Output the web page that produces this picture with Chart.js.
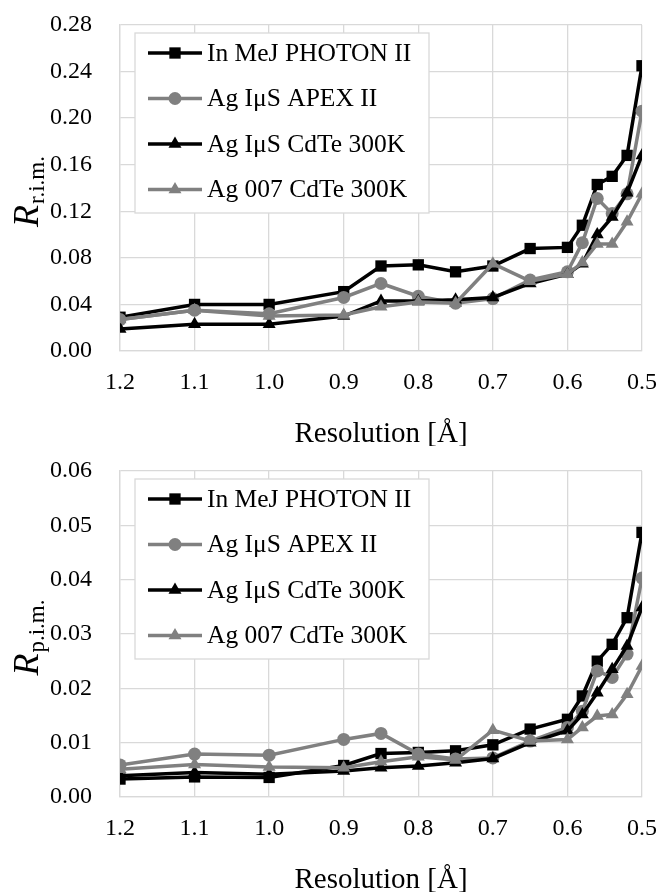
<!DOCTYPE html>
<html>
<head>
<meta charset="utf-8">
<script src="https://cdn.jsdelivr.net/npm/chart.js@4.4.0/dist/chart.umd.min.js"></script>
<style>
  body { margin: 0; background: #fff; }
  canvas { display: block; }
</style>
</head>
<body>
<canvas id="rim" width="660" height="446"></canvas>
<canvas id="pim" width="660" height="446"></canvas>
<script>
// resolution shells (Å)
const resolution = [1.2, 1.1, 1.0, 0.9, 0.85, 0.8, 0.75, 0.7, 0.65, 0.6, 0.58, 0.56, 0.54, 0.52, 0.5];
const seriesNames = ['In MeJ PHOTON II', 'Ag IμS APEX II', 'Ag IμS CdTe 300K', 'Ag 007 CdTe 300K'];

// R r.i.m.
const rimPhoton = [0.029, 0.040, 0.040, 0.051, 0.073, 0.074, 0.068, 0.073, 0.088, 0.089, 0.108, 0.143, 0.150, 0.168, 0.245];
const rimApex   = [0.027, 0.035, 0.032, 0.046, 0.058, 0.047, 0.041, 0.045, 0.061, 0.068, 0.093, 0.131, 0.118, 0.135, 0.206];
const rimCdTe   = [0.019, 0.023, 0.023, 0.030, 0.043, 0.043, 0.044, 0.046, 0.058, 0.066, 0.075, 0.100, 0.115, 0.136, 0.168];
const rim007    = [0.027, 0.035, 0.030, 0.031, 0.038, 0.042, 0.041, 0.075, 0.060, 0.066, 0.076, 0.092, 0.092, 0.111, 0.135];

// R p.i.m.
const pimPhoton = [0.0033, 0.0037, 0.0036, 0.0058, 0.0080, 0.0082, 0.0085, 0.0096, 0.0125, 0.0143, 0.0186, 0.0250, 0.0281, 0.0330, 0.0487];
const pimApex   = [0.0059, 0.0079, 0.0077, 0.0106, 0.0117, 0.0079, 0.0070, 0.0072, 0.0103, 0.0128, 0.0158, 0.0232, 0.0220, 0.0263, 0.0403];
const pimCdTe   = [0.0039, 0.0045, 0.0042, 0.0048, 0.0054, 0.0057, 0.0063, 0.0071, 0.0100, 0.0122, 0.0152, 0.0192, 0.0235, 0.0278, 0.0349];
const pim007    = [0.0051, 0.0060, 0.0055, 0.0054, 0.0065, 0.0074, 0.0068, 0.0123, 0.0103, 0.0106, 0.0128, 0.0149, 0.0152, 0.0189, 0.0241];

const FONT = "'Liberation Serif', 'Times New Roman', serif";
const BLACK = '#000000';
const GREY = '#808080';
const GRID = '#d9d9d9';

Chart.defaults.font.family = FONT;
Chart.defaults.color = '#000';

const styles = [
  { color: BLACK, pointStyle: 'rect', radius: 8 },
  { color: GREY, pointStyle: 'circle', radius: 6.5 },
  { color: BLACK, pointStyle: 'triangle', radius: 7.5 },
  { color: GREY, pointStyle: 'triangle', radius: 7.5 }
];

function marker(ctx, style, r, x, y) {
  ctx.beginPath();
  if (style === 'rect') {
    const s = r / Math.SQRT2;
    ctx.rect(x - s, y - s, 2 * s, 2 * s);
  } else if (style === 'circle') {
    ctx.arc(x, y, r, 0, Math.PI * 2);
  } else {
    ctx.moveTo(x, y - r);
    ctx.lineTo(x + r * Math.sin(Math.PI * 2 / 3), y - r * Math.cos(Math.PI * 2 / 3));
    ctx.lineTo(x + r * Math.sin(Math.PI * 4 / 3), y - r * Math.cos(Math.PI * 4 / 3));
    ctx.closePath();
  }
  ctx.fill();
}

// legend drawn inside the plot, box with white fill
const legendBox = {
  id: 'legendBox',
  afterDraw(chart) {
    const { ctx, chartArea } = chart;
    const x0 = chartArea.left + 15, y0 = chartArea.top + 8;
    ctx.save();
    ctx.fillStyle = '#fff';
    ctx.fillRect(x0, y0, 294, 180);
    ctx.strokeStyle = GRID;
    ctx.lineWidth = 1.3;
    ctx.strokeRect(x0, y0, 294, 180);
    chart.data.datasets.forEach((ds, i) => {
      const y = y0 + 20 + i * 45.5;
      ctx.strokeStyle = ds.borderColor;
      ctx.lineWidth = ds.borderWidth;
      ctx.beginPath();
      ctx.moveTo(x0 + 13, y);
      ctx.lineTo(x0 + 67, y);
      ctx.stroke();
      ctx.fillStyle = ds.backgroundColor;
      marker(ctx, ds.pointStyle, ds.pointRadius, x0 + 40, y);
      ctx.fillStyle = '#000';
      ctx.font = '25.5px ' + FONT;
      ctx.textBaseline = 'middle';
      ctx.textAlign = 'left';
      ctx.fillText(ds.label, x0 + 72, y + 1);
    });
    ctx.restore();
  }
};

// y axis title: italic R with subscript
const yTitle = {
  id: 'yTitle',
  afterDraw(chart, args, opts) {
    const { ctx, chartArea } = chart;
    const mid = (chartArea.top + chartArea.bottom) / 2 + 4;
    ctx.save();
    ctx.translate(38, mid);
    ctx.rotate(-Math.PI / 2);
    ctx.fillStyle = '#000';
    ctx.textBaseline = 'alphabetic';
    ctx.font = 'italic 36px ' + FONT;
    const wR = ctx.measureText('R').width;
    ctx.font = '23px ' + FONT;
    const wS = ctx.measureText(opts.sub).width;
    const start = -(wR + wS) / 2;
    ctx.font = 'italic 36px ' + FONT;
    ctx.fillText('R', start, 0);
    ctx.font = '23px ' + FONT;
    ctx.fillText(opts.sub, start + wR + 1, 6);
    ctx.restore();
  }
};

function makeChart(id, values, yMax, yStep, sub) {
  const datasets = values.map((v, i) => ({
    label: seriesNames[i],
    data: resolution.map((x, j) => ({ x: x, y: v[j] })),
    borderColor: styles[i].color,
    backgroundColor: styles[i].color,
    borderWidth: 3.5,
    pointStyle: styles[i].pointStyle,
    pointRadius: styles[i].radius,
    pointBorderWidth: 0,
    tension: 0,
    order: 3 - i
  }));

  new Chart(document.getElementById(id), {
    type: 'line',
    data: { datasets: datasets },
    plugins: [legendBox, yTitle],
    options: {
      responsive: false,
      animation: false,
      devicePixelRatio: 1,
      layout: { padding: { top: 25, right: 18, left: 0, bottom: 0 } },
      plugins: {
        legend: { display: false },
        tooltip: { enabled: false },
        yTitle: { sub: sub }
      },
      scales: {
        x: {
          type: 'linear',
          reverse: true,
          min: 0.5,
          max: 1.2,
          afterFit: (scale) => {
            scale.height = 95;
            scale.paddingLeft = 0;
            scale.paddingRight = 0;
          },
          ticks: {
            stepSize: 0.1,
            padding: 17,
            color: '#000',
            font: { family: FONT, size: 24 },
            callback: (v) => v.toFixed(1)
          },
          grid: { color: GRID, lineWidth: 1.3, drawTicks: false },
          border: { color: GRID, width: 1.3 },
          title: {
            display: true,
            text: 'Resolution [Å]',
            color: '#000',
            font: { family: FONT, size: 29, lineHeight: 0.8 },
            padding: { top: 0, bottom: 0 }
          }
        },
        y: {
          min: 0,
          max: yMax,
          afterFit: (scale) => {
            scale.width = 120;
            scale.paddingTop = 0;
            scale.paddingBottom = 0;
          },
          ticks: {
            stepSize: yStep,
            padding: 28,
            color: '#000',
            font: { family: FONT, size: 24 },
            callback: (v) => v.toFixed(2)
          },
          grid: { color: GRID, lineWidth: 1.3, drawTicks: false },
          border: { color: GRID, width: 1.3 }
        }
      }
    }
  });
}

makeChart('rim', [rimPhoton, rimApex, rimCdTe, rim007], 0.28, 0.04, 'r.i.m.');
makeChart('pim', [pimPhoton, pimApex, pimCdTe, pim007], 0.06, 0.01, 'p.i.m.');
</script>
</body>
</html>
